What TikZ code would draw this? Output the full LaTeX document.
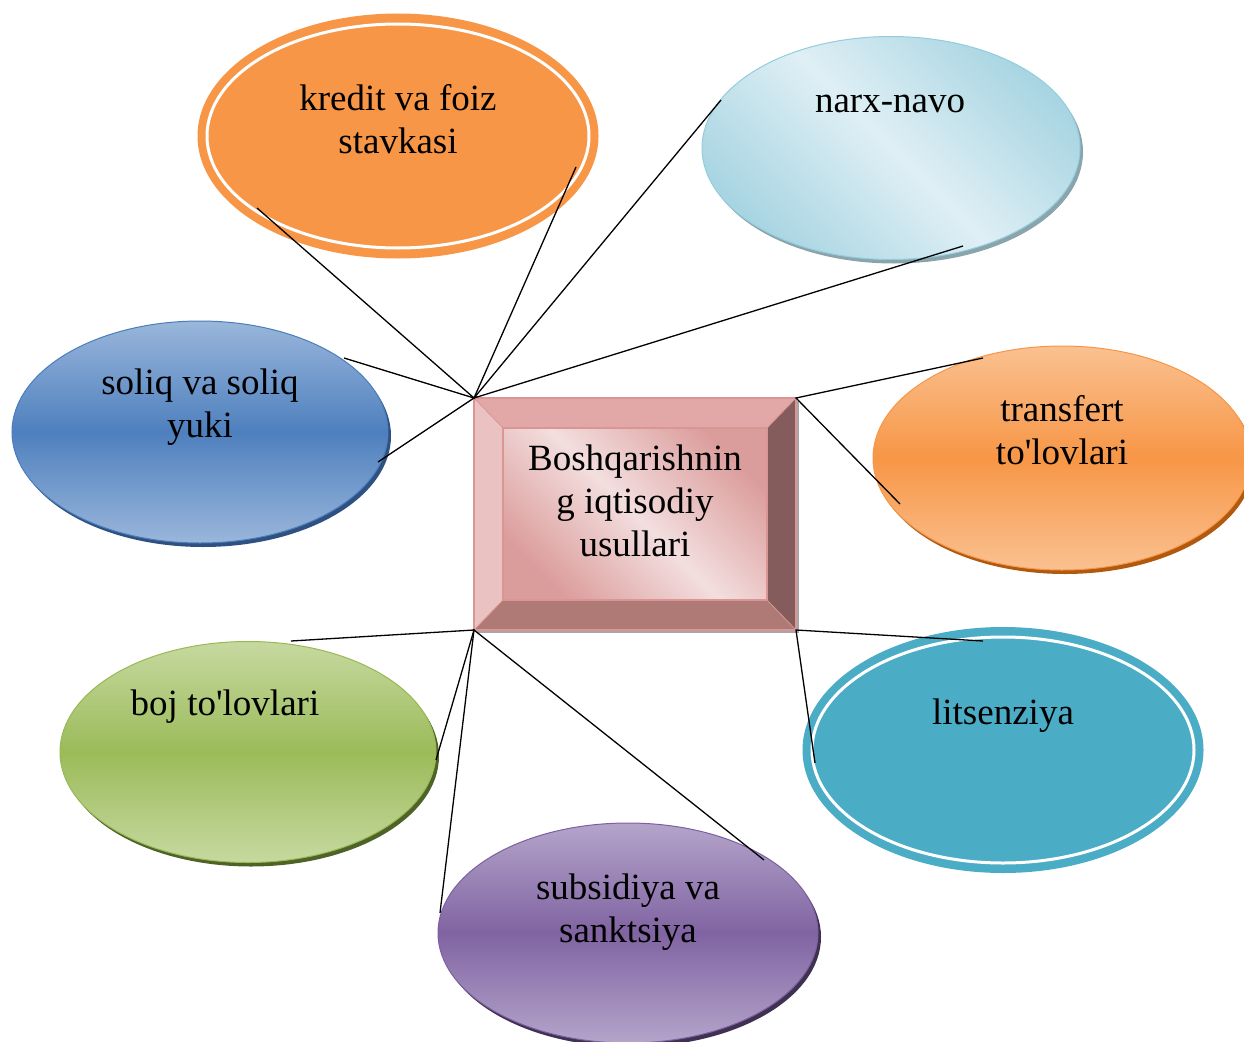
\documentclass[tikz,border=0pt]{standalone}
\usepackage{fontspec}
\setmainfont{Liberation Serif}
\usetikzlibrary{shapes.geometric,shadows,calc}
\definecolor{orA}{HTML}{F79646}
\definecolor{tealA}{HTML}{4BACC6}
\definecolor{blTop}{HTML}{9AB6DB}
\definecolor{blMid}{HTML}{4E80BE}
\definecolor{blLine}{HTML}{4A7EBB}
\definecolor{blSh}{HTML}{2F5182}
\definecolor{orTop}{HTML}{FAC191}
\definecolor{orMid}{HTML}{F79646}
\definecolor{orSh}{HTML}{B0590F}
\definecolor{grTop}{HTML}{C6D9A0}
\definecolor{grMid}{HTML}{9BBB59}
\definecolor{grLine}{HTML}{98B954}
\definecolor{grSh}{HTML}{4F6228}
\definecolor{puTop}{HTML}{B4A4CA}
\definecolor{puMid}{HTML}{8064A2}
\definecolor{puLine}{HTML}{7D60A0}
\definecolor{puSh}{HTML}{3F3151}
\definecolor{lbDark}{HTML}{A8D5E2}
\definecolor{lbLight}{HTML}{DFEFF5}
\definecolor{lbLine}{HTML}{93CDDD}
\definecolor{lbSh}{HTML}{8AA4AC}
\definecolor{bxTop}{HTML}{E2A8A7}
\definecolor{bxLeft}{HTML}{EBC2C2}
\definecolor{bxRight}{HTML}{845C5B}
\definecolor{bxBot}{HTML}{AF7976}
\definecolor{bxLine}{HTML}{D99694}
\definecolor{bxLight}{HTML}{F3DEDE}
\definecolor{bxDark}{HTML}{DB9D9C}
\tikzset{
  ell/.style={ellipse, inner sep=0pt, outer sep=0pt},
  shad/.style={drop shadow={shadow xshift=3pt, shadow yshift=-4pt, fill=#1, opacity=1}},
  txt/.style={anchor=base, align=center, inner sep=0pt, font=\fontsize{37}{43}\selectfont},
  link/.style={line width=1.3pt, black},
}
\begin{document}
\begin{tikzpicture}[x=1pt,y=-1pt]
\useasboundingbox (0,0) rectangle (1244,1041);
% ---- ellipses ----
\node[ell, fill=orA, minimum width=401pt, minimum height=245pt] (kredit) at (398,136) {};
\draw[white, line width=3pt] (kredit.center) ellipse [x radius=191pt, y radius=112pt];
\node[ell, shad=lbSh, draw=lbLine, line width=1pt, shading=axis, top color=lbDark, bottom color=lbDark, middle color=lbLight, shading angle=-45, minimum width=378pt, minimum height=223pt] (narx) at (891,148) {};
\node[ell, shad=blSh, draw=blLine, line width=1pt, top color=blTop, bottom color=blTop, middle color=blMid, minimum width=376pt, minimum height=222pt] (soliq) at (200,432) {};
\node[ell, shad=orSh, draw=orMid, line width=1pt, top color=orTop, bottom color=orTop, middle color=orMid, minimum width=378pt, minimum height=224pt] (transfert) at (1062,458) {};
\node[ell, shad=grSh, draw=grLine, line width=1pt, top color=grTop, bottom color=grTop, middle color=grMid, minimum width=376pt, minimum height=221pt] (boj) at (248,752) {};
\node[ell, fill=tealA, minimum width=401pt, minimum height=246pt] (lits) at (1003,750) {};
\draw[white, line width=3pt] (lits.center) ellipse [x radius=191pt, y radius=113pt];
\node[ell, shad=puSh, draw=puLine, line width=1pt, top color=puTop, bottom color=puTop, middle color=puMid, minimum width=380pt, minimum height=220pt] (subs) at (628,933) {};
% ---- texts (anchor = baseline of last line) ----
\node[txt] (tkredit) at (398,153) {kredit va foiz\\stavkasi};
\node[txt] (tnarx) at (890,112) {narx-navo};
\node[txt] (tsoliq) at (200,437) {soliq va soliq\\yuki};
\node[txt] (ttransfert) at (1062,464) {transfert\\to\textquotesingle lovlari};
\node[txt] (tboj) at (225,715) {boj to\textquotesingle lovlari};
\node[txt] (tlits) at (1003,724) {litsenziya};
\node[txt] (tsubs) at (628,942) {subsidiya va\\sanktsiya};
% ---- central bevelled box ----
\node[rectangle, minimum width=322pt, minimum height=232pt, inner sep=0pt, outer sep=0pt] (box) at (635,514) {};
\coordinate (onw) at (box.north west);
\coordinate (one) at (box.north east);
\coordinate (osw) at (box.south west);
\coordinate (ose) at (box.south east);
\coordinate (inw) at ($(onw)+(29,30)$);
\coordinate (ine) at ($(one)+(-29,30)$);
\coordinate (isw) at ($(osw)+(29,-30)$);
\coordinate (ise) at ($(ose)+(-29,-30)$);
\fill[black!35] ($(onw)+(3,3)$) rectangle ($(ose)+(3,3)$);
\fill[bxTop] (onw) -- (one) -- (ine) -- (inw) -- cycle;
\fill[bxLeft] (onw) -- (inw) -- (isw) -- (osw) -- cycle;
\fill[bxRight] (one) -- (ose) -- (ise) -- (ine) -- cycle;
\fill[bxBot] (osw) -- (isw) -- (ise) -- (ose) -- cycle;
\shade[shading=axis, top color=bxDark, bottom color=bxDark, middle color=bxLight, shading angle=-45] (inw) rectangle (ise);
\draw[bxLine, line width=1.5pt] (onw) rectangle (ose);
\draw[bxLine, line width=1.2pt] (inw) rectangle (ise);
\draw[bxLine, line width=0.8pt] (onw) -- (inw) (one) -- (ine) (osw) -- (isw) (ose) -- (ise);
\node[txt] (tbox) at (635,556) {Boshqarishnin\\g iqtisodiy\\usullari};
% ---- connector ends ----
\coordinate (k1) at (257,208);
\coordinate (k2) at (576,167);
\coordinate (n1) at (721,100);
\coordinate (n2) at (963,246);
\coordinate (s1) at (344,358);
\coordinate (s2) at (378,462);
\coordinate (t1) at (983,358);
\coordinate (t2) at (900,504);
\coordinate (b1) at (291,641);
\coordinate (b2) at (436,760);
\coordinate (p1) at (440,913);
\coordinate (p2) at (764,860);
\coordinate (l1) at (983,641);
\coordinate (l2) at (815,763);
% ---- connectors ----
\draw[link] (k1) -- (onw) -- (k2);
\draw[link] (n1) -- (onw) -- (n2);
\draw[link] (s1) -- (onw) -- (s2);
\draw[link] (t1) -- (one) -- (t2);
\draw[link] (b1) -- (osw) -- (b2);
\draw[link] (p1) -- (osw) -- (p2);
\draw[link] (l1) -- (ose) -- (l2);
\end{tikzpicture}
\end{document}
